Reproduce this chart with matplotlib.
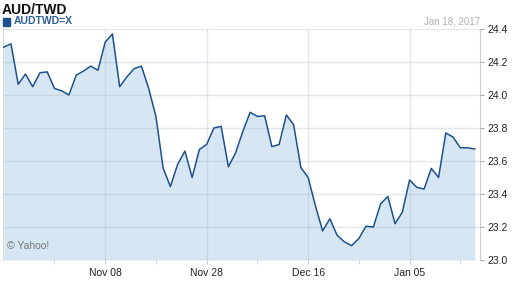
import matplotlib
matplotlib.use('Agg')
import matplotlib.pyplot as plt
from matplotlib.patches import Rectangle

# AUD/TWD daily close, trading days Oct 19 2016 .. Jan 18 2017
rate = [24.29, 24.31, 24.065, 24.127, 24.05, 24.135, 24.14, 24.04, 24.025, 24.0,
        24.12, 24.145, 24.175, 24.15, 24.32, 24.37, 24.05, 24.11, 24.16, 24.175,
        24.04, 23.87, 23.556, 23.445, 23.58, 23.66, 23.50, 23.67, 23.70, 23.80,
        23.81, 23.565, 23.65, 23.78, 23.895, 23.87, 23.874, 23.687, 23.70, 23.879,
        23.82, 23.56, 23.50, 23.33, 23.176, 23.25, 23.15, 23.11, 23.087, 23.13,
        23.205, 23.20, 23.34, 23.385, 23.22, 23.29, 23.485, 23.44, 23.43, 23.555,
        23.50, 23.77, 23.745, 23.68, 23.68, 23.673]
days = list(range(len(rate)))

tick_pos = [14, 28, 42, 56]
tick_labels = ['Nov 08', 'Nov 28', 'Dec 16', 'Jan 05']
minor_pos = [7, 21, 35, 49, 63]
y_ticks = [23.0, 23.2, 23.4, 23.6, 23.8, 24.0, 24.2, 24.4]

plt.rcParams['font.family'] = ['Liberation Sans', 'DejaVu Sans']

fig = plt.figure(figsize=(5.12, 2.88), dpi=100)
ax = fig.add_axes([3/512, 1-260/288, 477/512, 231/288])

line_c = '#1c528c'
fill_c = '#d6e6f2'

ax.fill_between(days, rate, 23.0, color=fill_c, lw=0, zorder=1)
ax.plot(days, rate, color=line_c, lw=1.1, zorder=3)

ax.set_xlim(-0.1, 65 + 5.2/7.26)
ax.set_ylim(23.0, 24.4)

ax.set_yticks(y_ticks)
ax.set_yticklabels(['%.1f' % v for v in y_ticks])
ax.yaxis.tick_right()
ax.set_xticks(tick_pos)
ax.set_xticklabels(tick_labels)
ax.set_xticks(minor_pos, minor=True)

# grid sits over the fill so it shows a bit darker there
ax.grid(True, color='#9fb4c8', alpha=0.3, lw=1, zorder=2)
ax.set_axisbelow(False)

ax.tick_params(axis='y', which='both', length=3, color='#aaaaaa',
               labelsize=7.5, labelcolor='#222222', pad=2)
ax.tick_params(axis='x', which='both', length=3, color='#cccccc',
               labelsize=7.5, labelcolor='#222222', pad=3)

for s in ['top', 'bottom']:
    ax.spines[s].set_visible(False)
ax.spines['left'].set_color('#dddddd')
ax.spines['right'].set_color('#cccccc')

fig.text(2/512, 1-3/288, 'AUD/TWD', fontsize=10, fontweight='bold',
         color='#111111', va='top', ha='left')
# legend square
fig.patches.append(Rectangle((3/512, 1-26/288), 7/512, 8/288,
                             transform=fig.transFigure, color=line_c))
fig.text(14/512, 1-21/288, 'AUDTWD=X', fontsize=7.5, fontweight='bold',
         color='#2a5f99', va='center', ha='left')
fig.text(480/512, 1-21/288, 'Jan 18, 2017', fontsize=7, color='#b0b0b0',
         va='center', ha='right')
ax.text(0.008, 0.04, '\u00a9 Yahoo!', transform=ax.transAxes, fontsize=7.5,
        color='#777777', va='bottom', ha='left')

fig.savefig('out.png', dpi=100)
